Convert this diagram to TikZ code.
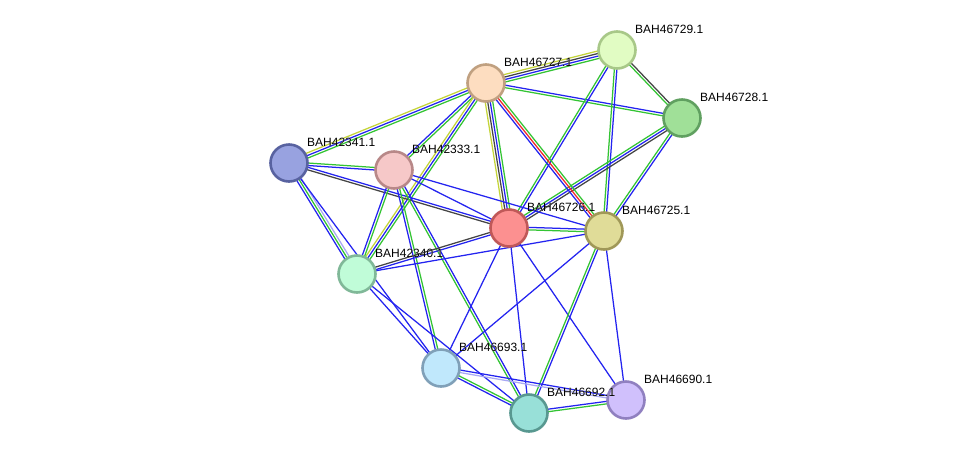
\documentclass[tikz,border=0pt]{standalone}
\usepackage{fontspec}
\setmainfont{Liberation Sans}
\usepackage[outline]{contour}
\contourlength{1.3pt}
\usetikzlibrary{calc}
\pgfdeclarelayer{bg}
\pgfsetlayers{bg,main}
\definecolor{sg}{HTML}{33C433}
\definecolor{sb}{HTML}{2323F0}
\definecolor{sk}{HTML}{444444}
\definecolor{sy}{HTML}{C4D438}
\definecolor{sr}{HTML}{F02828}
\definecolor{sl}{HTML}{A8A8F4}
\tikzset{
  prot/.style={circle, minimum size=37pt, inner sep=0pt, line width=2.6pt},
  plabel/.style={anchor=base west, font=\fontsize{12}{12}\selectfont, inner sep=0pt},
  edgeline/.style={line width=1.25pt},
}
\newcommand\sedge[4]{%
  \foreach [count=\i] \c in {#4} {%
    \pgfmathsetmacro\off{(\i-(#3+1)/2)*2.5}%
    \draw[edgeline,\c] ($(#1)!\off pt!90:(#2)$) -- ($(#2)!\off pt!-90:(#1)$);
  }%
}
\newcommand\halo[1]{\contour{white}{#1}}
\begin{document}
\begin{tikzpicture}[x=1pt,y=-1pt]
\useasboundingbox (0,0) rectangle (975,459);
% nodes
\node[prot, fill={rgb,255:red,225;green,252;blue,195}, draw={rgb,255:red,168;green,200;blue,136}] (p29) at (617,50) {};
\node[prot, fill={rgb,255:red,253;green,221;blue,192}, draw={rgb,255:red,192;green,160;blue,128}] (p27) at (486,83) {};
\node[prot, fill={rgb,255:red,160;green,224;blue,152}, draw={rgb,255:red,96;green,160;blue,96}] (p28) at (682,118) {};
\node[prot, fill={rgb,255:red,152;green,162;blue,224}, draw={rgb,255:red,88;green,98;blue,160}] (p41) at (289,163) {};
\node[prot, fill={rgb,255:red,246;green,200;blue,200}, draw={rgb,255:red,184;green,136;blue,136}] (p33) at (394,170) {};
\node[prot, fill={rgb,255:red,252;green,144;blue,144}, draw={rgb,255:red,192;green,88;blue,88}] (p26) at (509,228) {};
\node[prot, fill={rgb,255:red,224;green,220;blue,152}, draw={rgb,255:red,160;green,152;blue,88}] (p25) at (604,231) {};
\node[prot, fill={rgb,255:red,192;green,252;blue,216}, draw={rgb,255:red,128;green,184;blue,152}] (p40) at (357,274) {};
\node[prot, fill={rgb,255:red,192;green,232;blue,252}, draw={rgb,255:red,128;green,160;blue,184}] (p93) at (441,368) {};
\node[prot, fill={rgb,255:red,152;green,224;blue,216}, draw={rgb,255:red,88;green,152;blue,144}] (p92) at (529,413) {};
\node[prot, fill={rgb,255:red,208;green,192;blue,252}, draw={rgb,255:red,144;green,128;blue,192}] (p90) at (626,400) {};
% edges
\begin{pgfonlayer}{bg}
\fill[white] (0,0) rectangle (975,459);
\sedge{p27}{p29}{4}{sg,sb,sk,sy}
\sedge{p27}{p28}{2}{sg,sb}
\sedge{p29}{p28}{2}{sg,sk}
\sedge{p29}{p26}{2}{sg,sb}
\sedge{p29}{p25}{2}{sg,sb}
\sedge{p28}{p26}{3}{sg,sb,sk}
\sedge{p28}{p25}{2}{sg,sb}
\sedge{p27}{p41}{3}{sy,sb,sg}
\sedge{p27}{p33}{2}{sb,sg}
\sedge{p27}{p40}{3}{sy,sb,sg}
\sedge{p27}{p26}{4}{sy,sk,sb,sg}
\sedge{p27}{p25}{3}{sb,sr,sg}
\sedge{p41}{p33}{2}{sb,sg}
\sedge{p41}{p26}{2}{sk,sb}
\sedge{p41}{p40}{3}{sb,sg,sl}
\sedge{p41}{p93}{1}{sb}
\sedge{p33}{p26}{1}{sb}
\sedge{p33}{p25}{1}{sb}
\sedge{p33}{p40}{2}{sb,sg}
\sedge{p33}{p93}{2}{sb,sg}
\sedge{p33}{p92}{2}{sg,sb}
\sedge{p40}{p26}{2}{sb,sk}
\sedge{p40}{p25}{1}{sb}
\sedge{p40}{p93}{1}{sb}
\sedge{p40}{p92}{1}{sb}
\sedge{p26}{p25}{2}{sg,sb}
\sedge{p26}{p93}{1}{sb}
\sedge{p26}{p92}{1}{sb}
\sedge{p26}{p90}{1}{sb}
\sedge{p25}{p93}{1}{sb}
\sedge{p25}{p92}{2}{sg,sb}
\sedge{p25}{p90}{1}{sb}
\sedge{p93}{p92}{2}{sb,sg}
\sedge{p93}{p90}{2}{sl,sb}
\sedge{p92}{p90}{2}{sg,sb}
\end{pgfonlayer}
% labels
\node[plabel] (l29) at (635,33) {\halo{BAH46729.1}};
\node[plabel] (l27) at (504,66) {\halo{BAH46727.1}};
\node[plabel] (l28) at (700,101) {\halo{BAH46728.1}};
\node[plabel] (l41) at (307,146) {\halo{BAH42341.1}};
\node[plabel] (l33) at (412,153) {\halo{BAH42333.1}};
\node[plabel] (l26) at (527,211) {\halo{BAH46726.1}};
\node[plabel] (l25) at (622,214) {\halo{BAH46725.1}};
\node[plabel] (l40) at (375,257) {\halo{BAH42340.1}};
\node[plabel] (l93) at (459,351) {\halo{BAH46693.1}};
\node[plabel] (l92) at (547,396) {\halo{BAH46692.1}};
\node[plabel] (l90) at (644,383) {\halo{BAH46690.1}};
\end{tikzpicture}
\end{document}
